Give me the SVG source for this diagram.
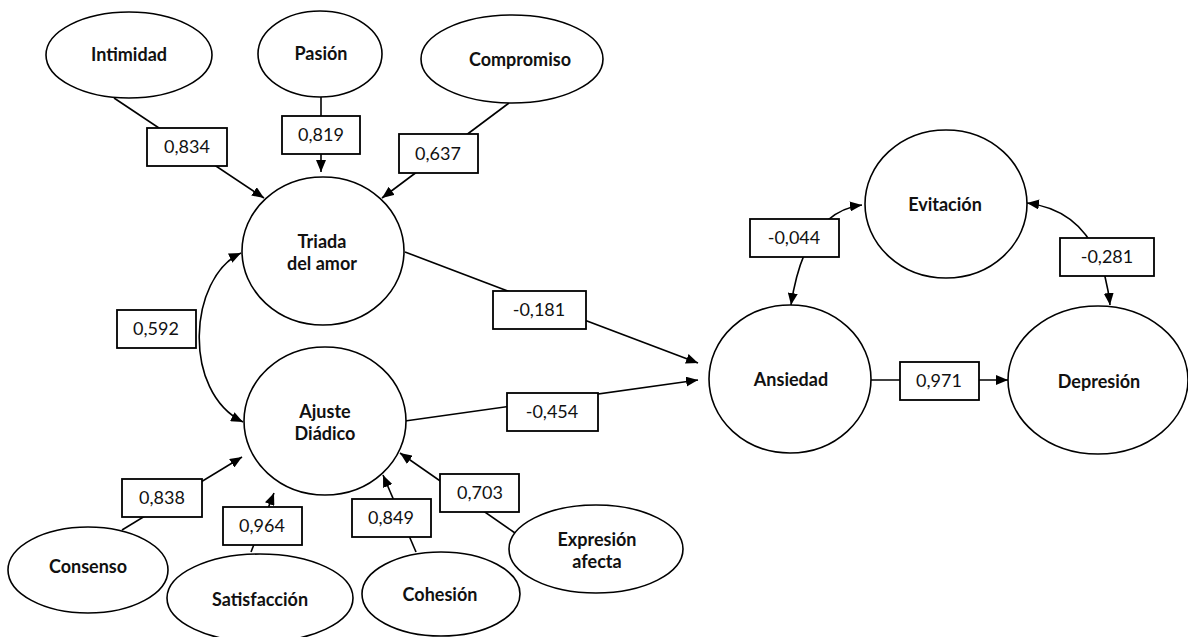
<svg xmlns="http://www.w3.org/2000/svg" width="1188" height="637" viewBox="0 0 1188 637">
<style>
.n{fill:#fff;stroke:#000;stroke-width:1.6}
.t{font-family:Lato,"Open Sans",sans-serif;font-weight:bold;font-size:18px;text-anchor:middle;fill:#111}
.c{fill:none;stroke:#000;stroke-width:1.6}
.b{fill:#fff;stroke:#000;stroke-width:1.8}
.v{font-family:Lato,"Open Sans",sans-serif;font-size:18px;text-anchor:middle;fill:#111}
</style>
<defs>
<marker id="ah" viewBox="0 0 12 10" refX="12" refY="5" markerWidth="12" markerHeight="10" markerUnits="userSpaceOnUse" orient="auto-start-reverse"><path d="M0,0 L12,5 L0,10 z" fill="#000"/></marker>
</defs>
<rect width="1188" height="637" fill="#fff"/>
<g id="connectors">
<path class="c" d="M114,98 L264,198" marker-end="url(#ah)"/>
<path class="c" d="M321,97 L321,172" marker-end="url(#ah)"/>
<path class="c" d="M509,103 L382,198" marker-end="url(#ah)"/>
<path class="c" d="M405,252 L698,363" marker-end="url(#ah)"/>
<path class="c" d="M405,421 L698,380" marker-end="url(#ah)"/>
<path class="c" d="M241,253 C188,278 182,392 243,422" marker-start="url(#ah)" marker-end="url(#ah)"/>
<path class="c" d="M122,530 L242,457" marker-end="url(#ah)"/>
<path class="c" d="M251,552 L274,493" marker-end="url(#ah)"/>
<path class="c" d="M416,552 L383,475" marker-end="url(#ah)"/>
<path class="c" d="M515,533 L400,453" marker-end="url(#ah)"/>
<path class="c" d="M870,380 L1008,380" marker-end="url(#ah)"/>
<path class="c" d="M862,205 Q805,212 791,305" marker-start="url(#ah)" marker-end="url(#ah)"/>
<path class="c" d="M1027,203 Q1100,212 1110,305" marker-start="url(#ah)" marker-end="url(#ah)"/>
<g id="labels">
<rect class="b" x="147" y="128" width="80" height="38"/><text class="v" x="187" y="153">0,834</text>
<rect class="b" x="282" y="116" width="78" height="38"/><text class="v" x="321" y="141">0,819</text>
<rect class="b" x="399" y="134" width="79" height="39"/><text class="v" x="438" y="160">0,637</text>
<rect class="b" x="493" y="291" width="93" height="38"/><text class="v" x="539" y="316">-0,181</text>
<rect class="b" x="117" y="310" width="79" height="38"/><text class="v" x="156" y="335">0,592</text>
<rect class="b" x="507" y="393" width="91" height="38"/><text class="v" x="552" y="418">-0,454</text>
<rect class="b" x="122" y="479" width="80" height="38"/><text class="v" x="162" y="504">0,838</text>
<rect class="b" x="223" y="507" width="79" height="38"/><text class="v" x="262" y="532">0,964</text>
<rect class="b" x="352" y="499" width="79" height="38"/><text class="v" x="391" y="524">0,849</text>
<rect class="b" x="440" y="474" width="79" height="38"/><text class="v" x="480" y="499">0,703</text>
<rect class="b" x="750" y="219" width="89" height="38"/><text class="v" x="794" y="244">-0,044</text>
<rect class="b" x="1060" y="238" width="94" height="38"/><text class="v" x="1107" y="263">-0,281</text>
<rect class="b" x="900" y="362" width="79" height="38"/><text class="v" x="939" y="387">0,971</text>
</g>
</g>
<g id="intimidad"><ellipse class="n" cx="129" cy="55" rx="83" ry="43"/><text class="t" x="129" y="61">Intimidad</text></g>
<g id="pasion"><ellipse class="n" cx="320" cy="54" rx="62" ry="43"/><text class="t" x="321" y="60">Pasión</text></g>
<g id="compromiso"><ellipse class="n" cx="512" cy="59" rx="91" ry="44"/><text class="t" x="520" y="66">Compromiso</text></g>
<g id="triada"><ellipse class="n" cx="323" cy="251" rx="81" ry="74"/><text class="t" x="322" y="248">Triada</text><text class="t" x="322" y="270">del amor</text></g>
<g id="ajuste"><ellipse class="n" cx="325" cy="421" rx="81" ry="74"/><text class="t" x="325" y="418">Ajuste</text><text class="t" x="325" y="440">Diádico</text></g>
<g id="consenso"><ellipse class="n" cx="88" cy="570" rx="80" ry="43"/><text class="t" x="88" y="573">Consenso</text></g>
<g id="satisfaccion"><ellipse class="n" cx="260" cy="598" rx="93" ry="44"/><text class="t" x="260" y="606">Satisfacción</text></g>
<g id="cohesion"><ellipse class="n" cx="441" cy="594" rx="79" ry="42"/><text class="t" x="440" y="601">Cohesión</text></g>
<g id="expresion"><ellipse class="n" cx="596" cy="549" rx="87" ry="44"/><text class="t" x="597" y="546">Expresión</text><text class="t" x="597" y="568">afecta</text></g>
<g id="ansiedad"><ellipse class="n" cx="790" cy="379" rx="81" ry="74"/><text class="t" x="791" y="386">Ansiedad</text></g>
<g id="evitacion"><ellipse class="n" cx="946" cy="204" rx="81" ry="74"/><text class="t" x="945" y="211">Evitación</text></g>
<g id="depresion"><ellipse class="n" cx="1098" cy="380" rx="90" ry="74"/><text class="t" x="1099" y="388">Depresión</text></g>
</svg>
